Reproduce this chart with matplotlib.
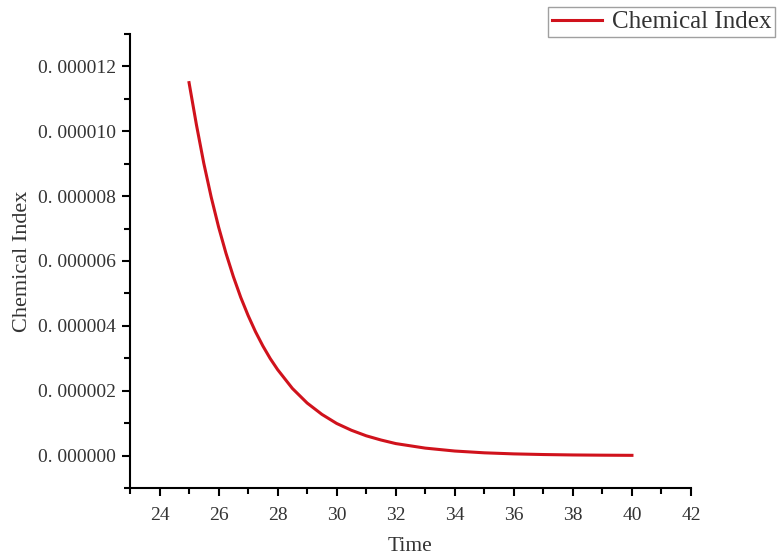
import numpy as np
import matplotlib.pyplot as plt
from matplotlib.ticker import MultipleLocator, FuncFormatter

# values
time = [25, 25.25, 25.5, 25.75, 26, 26.25, 26.5, 26.75, 27, 27.25, 27.5, 27.75,
        28, 28.5, 29, 29.5, 30, 30.5, 31, 31.5, 32, 33, 34, 35, 36, 37, 38, 39, 40]
chem_index = [11.5, 10.2, 9.01, 7.97, 7.05, 6.24, 5.52, 4.88, 4.32, 3.82, 3.38,
              2.99, 2.65, 2.07, 1.62, 1.27, 0.99, 0.78, 0.61, 0.48, 0.37, 0.23,
              0.14, 0.085, 0.052, 0.032, 0.019, 0.012, 0.007]  # x 1e-6
series_name = 'Chemical Index'

plt.rcParams['font.family'] = ['Liberation Serif', 'DejaVu Serif']
txt = '#333333'

fig = plt.figure(figsize=(7.77, 5.56), dpi=100)
ax = fig.add_axes([130 / 777, 1 - 488 / 556, (691 - 130) / 777, (488 - 34) / 556])

ax.plot(time, np.array(chem_index) * 1e-6, color='#d0121c', lw=2.2, label=series_name)

ax.set_xlim(23, 42)
ax.set_ylim(-1e-6, 13e-6)
ax.xaxis.set_major_locator(MultipleLocator(2))
ax.xaxis.set_minor_locator(MultipleLocator(1))
ax.yaxis.set_major_locator(MultipleLocator(2e-6))
ax.yaxis.set_minor_locator(MultipleLocator(1e-6))
ax.yaxis.set_major_formatter(FuncFormatter(lambda v, p: ('%.6f' % v).replace('-', '').replace('.', '. ')))

for s in ['top', 'right']:
    ax.spines[s].set_visible(False)
for s in ['left', 'bottom']:
    ax.spines[s].set_linewidth(1.5)
ax.tick_params(which='major', direction='out', length=6, width=1.5, labelsize=14,
               labelcolor=txt)
ax.tick_params(axis='x', which='major', pad=8)
ax.tick_params(axis='y', which='major', pad=4)
ax.tick_params(which='minor', direction='out', length=4, width=1.5)

ax.set_xlabel('Time', fontsize=15.5, color=txt, labelpad=9)
ax.set_ylabel('Chemical Index', fontsize=16, color=txt, labelpad=4)

leg = fig.legend(loc='upper left', bbox_to_anchor=(548 / 777, 1 - 7 / 556),
                 fontsize=18, frameon=True, fancybox=False, handlelength=2.0,
                 handletextpad=0.4, borderpad=0.15, borderaxespad=0)
leg.get_frame().set_edgecolor('#888888')
leg.get_frame().set_linewidth(1.0)
for t in leg.get_texts():
    t.set_color(txt)

fig.savefig('out.png', dpi=100, facecolor='w')
